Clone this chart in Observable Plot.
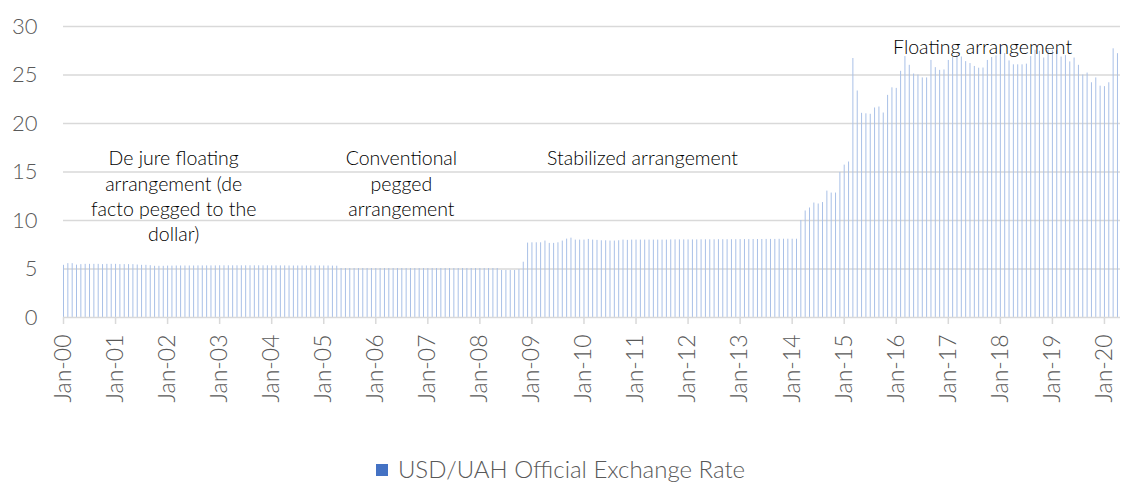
<!DOCTYPE html>
<html>
<head>
<meta charset="utf-8">
<script src="https://cdn.jsdelivr.net/npm/d3@7"></script>
<script src="https://cdn.jsdelivr.net/npm/@observablehq/plot@0.6"></script>
<style>
  html, body { margin: 0; padding: 0; background: #fff; }
  #chart { width: 1121px; }
  .legend { display: flex; justify-content: center; align-items: center; margin-top: 34px;
    font-family: Lato, "Open Sans", sans-serif; font-weight: 300; font-size: 24px; color: #595959; }
  .legend .sw { width: 12px; height: 12px; background: #4472C4; margin-right: 10px; margin-top: 3px; }
</style>
</head>
<body>
<div id="chart"></div>
<script>
// Monthly USD/UAH official exchange rate, Jan 2000 – Apr 2020
const startYear = 2000;
const rate2000 = [5.38, 5.55, 5.55, 5.40, 5.45, 5.48, 5.48, 5.48, 5.48, 5.45, 5.48, 5.48];
const rate2001 = [5.48, 5.45, 5.45, 5.45, 5.45, 5.41, 5.38, 5.38, 5.34, 5.28, 5.28, 5.28];
const rate2002 = [5.30, 5.30, 5.31, 5.31, 5.31, 5.31, 5.31, 5.32, 5.32, 5.32, 5.32, 5.32];
const rate2003 = [5.33, 5.33, 5.33, 5.33, 5.33, 5.33, 5.33, 5.33, 5.33, 5.33, 5.33, 5.33];
const rate2004 = [5.32, 5.32, 5.32, 5.32, 5.31, 5.31, 5.31, 5.31, 5.31, 5.31, 5.31, 5.31];
const rate2005 = [5.31, 5.31, 5.30, 5.29, 5.05, 5.05, 5.05, 5.05, 5.05, 5.05, 5.05, 5.05];
const rate2006 = [5.05, 5.05, 5.05, 5.05, 5.05, 5.05, 5.05, 5.05, 5.05, 5.05, 5.05, 5.05];
const rate2007 = [5.05, 5.05, 5.05, 5.05, 5.05, 5.05, 5.05, 5.05, 5.05, 5.05, 5.05, 5.05];
const rate2008 = [5.05, 5.05, 5.05, 5.05, 5.05, 4.85, 4.85, 4.85, 4.85, 4.92, 5.70, 7.67];
const rate2009 = [7.70, 7.70, 7.70, 7.88, 7.64, 7.64, 7.70, 7.88, 8.08, 8.18, 7.98, 7.98];
const rate2010 = [7.98, 8.05, 7.98, 7.95, 7.91, 7.91, 7.88, 7.88, 7.91, 7.98, 7.95, 7.98];
const rate2011 = [7.98, 7.98, 7.98, 7.98, 7.98, 7.98, 7.98, 7.98, 8.00, 8.00, 8.00, 8.00];
const rate2012 = [8.00, 8.00, 8.00, 8.01, 8.01, 8.01, 8.01, 8.02, 8.02, 8.02, 8.02, 8.02];
const rate2013 = [8.03, 8.03, 8.03, 8.04, 8.04, 8.04, 8.05, 8.05, 8.05, 8.06, 8.07, 8.07];
const rate2014 = [8.07, 8.07, 10.00, 10.98, 11.29, 11.80, 11.70, 11.85, 13.03, 12.83, 12.83, 14.96];
const rate2015 = [15.71, 16.03, 26.70, 23.35, 21.05, 21.00, 20.95, 21.60, 21.70, 21.08, 22.90, 23.68];
const rate2016 = [23.62, 25.38, 26.90, 26.00, 25.10, 25.00, 24.70, 24.70, 26.50, 25.76, 25.48, 25.52];
const rate2017 = [26.50, 26.80, 27.05, 26.85, 26.38, 26.18, 25.88, 25.70, 25.72, 26.50, 26.80, 26.98];
const rate2018 = [27.58, 27.22, 26.45, 26.05, 26.05, 26.05, 26.12, 26.90, 27.55, 27.45, 26.75, 27.55];
const rate2019 = [27.55, 27.50, 26.85, 27.00, 26.35, 26.75, 26.00, 25.00, 25.20, 24.20, 24.70, 23.85];
const rate2020 = [23.80, 24.20, 27.70, 27.20];

const usdUah = [].concat(rate2000, rate2001, rate2002, rate2003, rate2004, rate2005, rate2006,
  rate2007, rate2008, rate2009, rate2010, rate2011, rate2012, rate2013, rate2014, rate2015,
  rate2016, rate2017, rate2018, rate2019, rate2020);

const tickLabels = ["Jan-00","Jan-01","Jan-02","Jan-03","Jan-04","Jan-05","Jan-06","Jan-07","Jan-08","Jan-09",
  "Jan-10","Jan-11","Jan-12","Jan-13","Jan-14","Jan-15","Jan-16","Jan-17","Jan-18","Jan-19","Jan-20"];
const yTicks = [0, 5, 10, 15, 20, 25, 30];

// annotation labels: month index (from Jan-00), value, text
const noteMonth = [25.4, 77.9, 133.5, 211.9];
const noteValue = [17.55, 17.55, 17.55, 29.05];
const noteText = [
  "De jure floating\narrangement (de\nfacto pegged to the\ndollar)",
  "Conventional\npegged\narrangement",
  "Stabilized arrangement",
  "Floating arrangement"
];

const data = usdUah.map((v, i) => ({month: i, rate: v}));
const notes = noteText.map((t, i) => ({month: noteMonth[i], value: noteValue[i], text: t}));
const tickMonths = tickLabels.map((_, i) => i * 12);

const font = "Lato, 'Open Sans', sans-serif";

const chart = Plot.plot({
  width: 1121,
  height: 420,
  marginLeft: 63,
  marginRight: 1,
  marginTop: 26,
  marginBottom: 103,
  style: {fontFamily: font, background: "#fff"},
  x: {type: "linear", domain: [0, 243.7]},
  y: {type: "linear", domain: [0, 30]},
  marks: [
    Plot.gridY(yTicks.filter(d => d > 0), {stroke: "#d9d9d9", strokeOpacity: 1, strokeWidth: 1.5}),
    Plot.ruleX(data, {x: "month", y1: 0, y2: "rate", stroke: "#a9c0e7", strokeWidth: 1}),
    Plot.ruleY([0], {stroke: "#d9d9d9", strokeWidth: 1.5}),
    Plot.axisX(tickMonths, {tickFormat: d => tickLabels[d / 12], tickRotate: -90, label: null,
      tickSize: 7, tickPadding: 10, stroke: "#d9d9d9", strokeWidth: 1.5, strokeOpacity: 1,
      fontSize: 23, fill: "#595959", fontWeight: 300}),
    Plot.axisY(yTicks, {tickSize: 0, tickPadding: 26, fontSize: 22, fill: "#595959", fontWeight: 300, label: null}),
    Plot.text(notes, {x: "month", y: "value", text: "text", lineAnchor: "top", lineHeight: 1.3,
      fontSize: 19.5, fontWeight: 300, fill: "#000", textAnchor: "middle"})
  ]
});
document.getElementById("chart").appendChild(chart);

const legend = document.createElement("div");
legend.className = "legend";
legend.innerHTML = '<div class="sw"></div><span>USD/UAH Official Exchange Rate</span>';
document.getElementById("chart").appendChild(legend);
</script>
</body>
</html>
